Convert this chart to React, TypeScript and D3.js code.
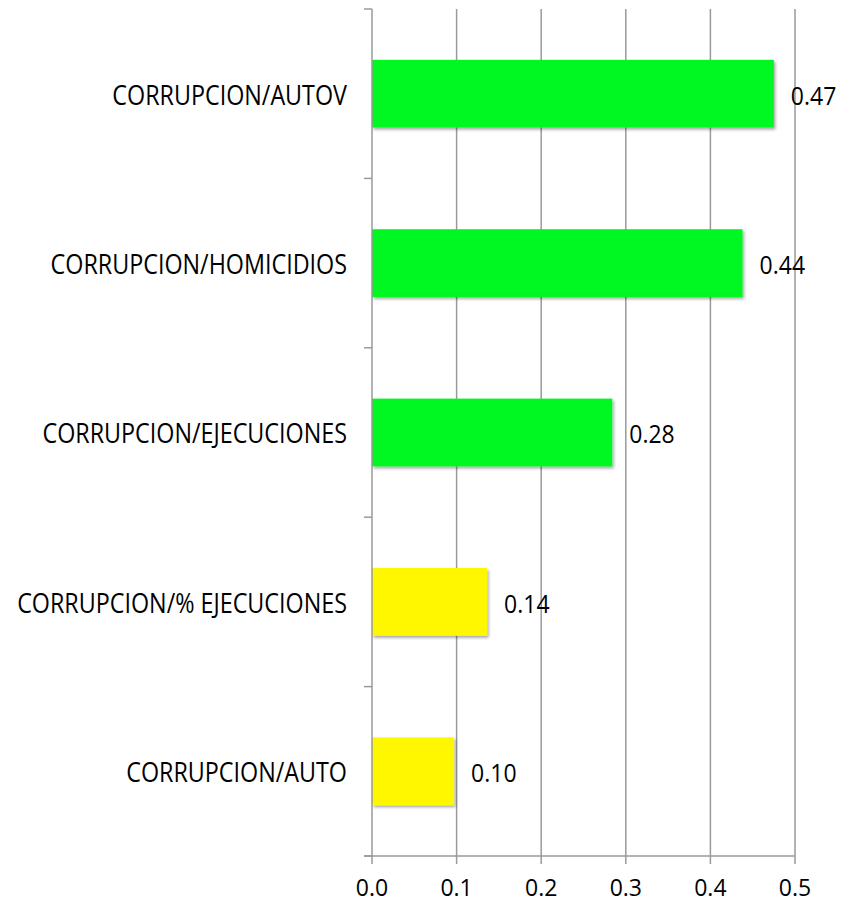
import React from "react";
import * as d3 from "d3";

const categories = [
  "CORRUPCION/AUTOV",
  "CORRUPCION/HOMICIDIOS",
  "CORRUPCION/EJECUCIONES",
  "CORRUPCION/% EJECUCIONES",
  "CORRUPCION/AUTO",
];
const values = [0.475, 0.438, 0.284, 0.136, 0.097];
const valueLabels = ["0.47", "0.44", "0.28", "0.14", "0.10"];
const barColors = ["#00F820", "#00F820", "#00F820", "#FFF700", "#FFF700"];
const xTicks = [0, 0.1, 0.2, 0.3, 0.4, 0.5];

export default function App() {
  const W = 850, H = 902;
  const left = 372, right = 795, top = 9, bottom = 856;
  const x = d3.scaleLinear().domain([0, 0.5]).range([left, right]);
  const y = d3.scaleBand().domain(categories).range([top, bottom]).paddingInner(0.6).paddingOuter(0.3);
  const band = d3.scaleBand().domain(categories).range([top, bottom]);
  const font = "'Open Sans', sans-serif";
  const grid = "#9a9a9a";
  const catSize = 26.5, catScale = 0.88;
  const valSize = 25, valScale = 0.92;
  return (
    <svg width={W} height={H} style={{ position: "absolute", left: 0, top: 0 }}>
      <defs>
        <filter id="sh" x="-10%" y="-10%" width="130%" height="140%">
          <feDropShadow dx="1.5" dy="2" stdDeviation="1.5" floodColor="#000" floodOpacity="0.35" />
        </filter>
      </defs>
      {xTicks.slice(1).map((t) => (
        <line key={"g" + t} x1={x(t)} x2={x(t)} y1={top} y2={bottom} stroke={grid} strokeWidth={1.5} />
      ))}
      {categories.map((c, i) => (
        <rect key={c} x={x(0)} y={y(c)} width={x(values[i]) - x(0)} height={y.bandwidth()} fill={barColors[i]} filter="url(#sh)" />
      ))}
      <line x1={left} x2={left} y1={top} y2={bottom} stroke={grid} strokeWidth={1.5} />
      <line x1={left - 8} x2={right} y1={bottom} y2={bottom} stroke={grid} strokeWidth={1.5} />
      {[...categories.map((c) => band(c)!), bottom].map((v, i) => (
        <line key={"yt" + i} x1={left - 8} x2={left} y1={v} y2={v} stroke={grid} strokeWidth={1.5} />
      ))}
      {xTicks.map((t) => (
        <line key={"xt" + t} x1={x(t)} x2={x(t)} y1={bottom} y2={bottom + 8} stroke={grid} strokeWidth={1.5} />
      ))}
      {xTicks.map((t) => (
        <text key={"xl" + t} x={x(t)} y={896} textAnchor="middle" fontFamily={font} fontSize={23} fill="#000">
          {t.toFixed(1)}
        </text>
      ))}
      {categories.map((c) => (
        <text
          key={"cl" + c}
          transform={`translate(347,${y(c)! + y.bandwidth() / 2 + 1.5 + catSize * 0.357}) scale(${catScale},1)`}
          textAnchor="end"
          fontFamily={font}
          fontSize={catSize}
          fill="#000"
        >
          {c}
        </text>
      ))}
      {categories.map((c, i) => (
        <text
          key={"vl" + c}
          transform={`translate(${x(values[i]) + 17},${y(c)! + y.bandwidth() / 2 + 2 + valSize * 0.357}) scale(${valScale},1)`}
          fontFamily={font}
          fontSize={valSize}
          fill="#000"
        >
          {valueLabels[i]}
        </text>
      ))}
    </svg>
  );
}
